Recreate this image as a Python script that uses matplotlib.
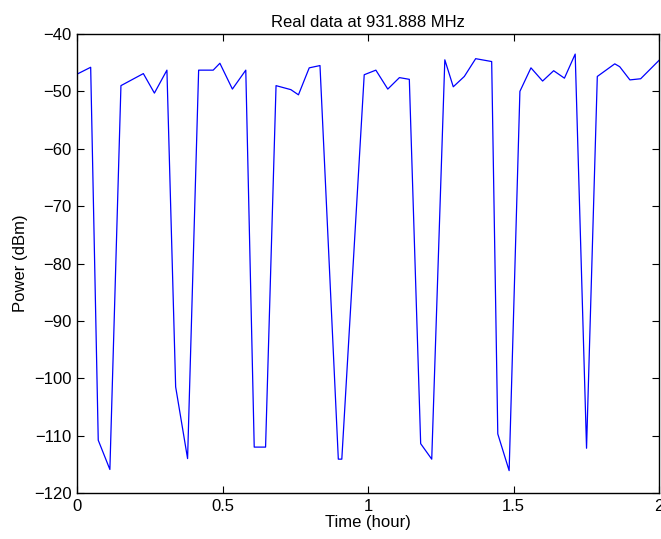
import matplotlib
matplotlib.use("Agg")
import matplotlib.pyplot as plt

time_hour = [0.000, 0.047, 0.073, 0.113, 0.151, 0.228, 0.266, 0.309, 0.339, 0.380,
             0.418, 0.468, 0.491, 0.534, 0.580, 0.609, 0.648, 0.684, 0.735, 0.761,
             0.798, 0.835, 0.898, 0.910, 0.987, 1.027, 1.068, 1.108, 1.142, 1.181,
             1.219, 1.264, 1.293, 1.331, 1.370, 1.425, 1.446, 1.485, 1.522, 1.560,
             1.600, 1.638, 1.675, 1.712, 1.751, 1.788, 1.848, 1.865, 1.900, 1.937,
             2.000]
power_dbm = [-47.0, -45.8, -110.8, -115.9, -49.0, -46.9, -50.3, -46.3, -101.5, -114.0,
             -46.3, -46.3, -45.1, -49.6, -46.3, -112.0, -112.0, -49.0, -49.7, -50.6,
             -45.9, -45.5, -114.1, -114.1, -47.1, -46.3, -49.6, -47.6, -47.9, -111.4,
             -114.1, -44.5, -49.2, -47.4, -44.3, -44.8, -109.7, -116.1, -50.0, -45.9,
             -48.2, -46.4, -47.7, -43.5, -112.2, -47.4, -45.2, -45.7, -48.0, -47.8,
             -44.6]

xticks = [0, 0.5, 1, 1.5, 2]
xticklabels = ["0", "0.5", "1", "1.5", "2"]
yticks = [-120, -110, -100, -90, -80, -70, -60, -50, -40]
yticklabels = ["\u2212120", "\u2212110", "\u2212100", "\u221290", "\u221280",
               "\u221270", "\u221260", "\u221250", "\u221240"]

plt.rcParams['font.family'] = ['Liberation Sans', 'DejaVu Sans']
fig = plt.figure(figsize=(6.61, 5.39), dpi=100)
ax = fig.add_axes([77/661, 46/539, 582/661, 459/539])
ax.plot(time_hour, power_dbm, color=(0, 0, 1), linewidth=0.9)
ax.set_xlim(0, 2)
ax.set_ylim(-120, -40)
ax.set_xticks(xticks)
ax.set_xticklabels(xticklabels)
ax.set_yticks(yticks)
ax.set_yticklabels(yticklabels)
ax.tick_params(direction='in', top=True, right=True, labelsize=12, length=5, width=0.8, pad=4)
for s in ax.spines.values():
    s.set_linewidth(1.0)
ax.set_xlabel("Time (hour)", fontsize=12, labelpad=1)
ax.set_ylabel("Power (dBm)", fontsize=12, labelpad=4)
ax.set_title("Real data at 931.888 MHz", fontsize=12, pad=5)
fig.savefig("out.png", dpi=100)
